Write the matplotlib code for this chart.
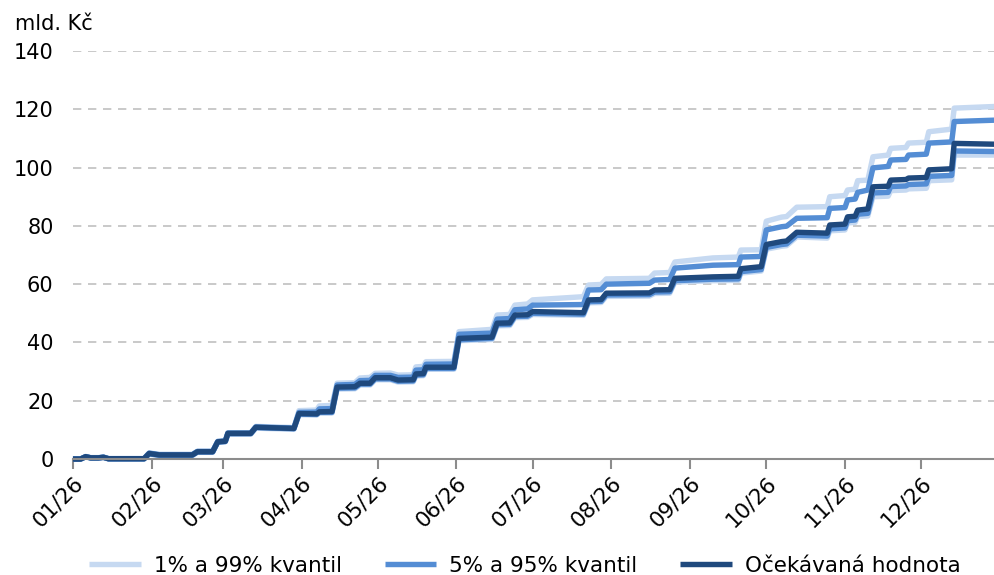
import numpy as np
import matplotlib
matplotlib.use("Agg")
import matplotlib.pyplot as plt
import matplotlib.dates as mdates

# dny od 1.1.2026 a hodnoty (mld. Kc)
dny = [0, 3, 5, 7, 10, 12, 14, 28, 30, 34, 47, 49, 55, 57, 60, 61, 70, 72, 87, 89,
       96, 97, 102, 104, 111, 113, 117, 119, 125, 128, 134, 135, 138, 139, 150, 152,
       165, 167, 172, 174, 179, 181, 201, 203, 208, 210, 227, 229, 235, 237, 252, 262,
       263, 271, 273, 279, 281, 285, 297, 298, 304, 305, 308, 309, 313, 315, 321, 322,
       328, 329, 336, 337, 346, 347, 364]

q01 = [0, 0, 0.7, 0.3, 0.3, 0.5, 0.0, 0.0, 1.7, 1.2, 1.2, 2.3, 2.3, 5.7, 5.9, 8.5, 8.5, 10.6, 10.2, 15.2,
       15.1, 15.8, 15.8, 24.0, 24.1, 25.4, 25.4, 27.2, 27.2, 26.4, 26.5, 28.5, 28.6, 30.8, 30.8, 40.6,
       41.0, 45.7, 45.8, 48.5, 48.6, 49.6, 49.3, 53.6, 53.7, 55.8, 55.9, 56.8, 56.9, 60.7, 61.2, 61.3,
       63.8, 64.5, 72.0, 73.0, 73.2, 76.2, 75.8, 78.3, 78.6, 81.0, 81.2, 83.2, 83.4, 90.0, 90.2, 92.1,
       92.3, 92.7, 92.9, 95.5, 95.8, 104.3, 104.3]

q05 = [0, 0, 0.8, 0.4, 0.4, 0.6, 0.1, 0.1, 1.8, 1.3, 1.3, 2.4, 2.4, 5.8, 6.0, 8.7, 8.7, 10.8, 10.4, 15.4,
       15.3, 16.0, 16.0, 24.3, 24.4, 25.7, 25.7, 27.5, 27.5, 26.7, 26.8, 28.8, 28.9, 31.1, 31.1, 40.9,
       41.4, 46.1, 46.2, 48.9, 49.0, 50.0, 49.7, 54.0, 54.1, 56.3, 56.4, 57.3, 57.4, 61.2, 61.7, 61.8,
       64.3, 65.0, 72.6, 73.6, 73.8, 76.8, 76.5, 79.0, 79.3, 81.8, 82.0, 84.0, 84.3, 91.3, 91.5, 93.5,
       93.7, 94.2, 94.4, 97.0, 97.3, 105.7, 105.5]

stredni = [0, 0, 0.8, 0.4, 0.4, 0.6, 0.1, 0.1, 1.9, 1.4, 1.4, 2.5, 2.5, 5.9, 6.1, 8.8, 8.8, 10.9, 10.5, 15.6,
           15.5, 16.2, 16.3, 24.7, 24.8, 26.0, 26.0, 27.9, 27.9, 27.1, 27.2, 29.2, 29.3, 31.5, 31.5, 41.4,
           41.8, 46.6, 46.7, 49.4, 49.5, 50.6, 50.2, 54.6, 54.7, 56.9, 57.0, 58.0, 58.1, 62.0, 62.5, 62.7,
           65.3, 66.0, 73.6, 74.6, 74.8, 77.8, 77.5, 80.3, 80.6, 83.1, 83.3, 85.4, 85.8, 93.4, 93.6, 95.7,
           95.9, 96.4, 96.6, 99.2, 99.6, 108.3, 108.0]

q95 = [0, 0, 0.8, 0.4, 0.4, 0.6, 0.1, 0.1, 2.0, 1.5, 1.5, 2.6, 2.6, 6.0, 6.2, 8.9, 8.9, 11.0, 10.6, 16.0,
       16.1, 17.2, 17.3, 25.4, 25.6, 26.9, 27.0, 28.7, 28.7, 28.0, 28.1, 30.5, 30.6, 32.5, 32.6, 42.8,
       43.2, 48.0, 48.2, 51.2, 51.5, 52.8, 53.0, 58.0, 58.1, 60.0, 60.3, 61.4, 61.6, 65.5, 66.5, 66.7,
       69.3, 69.5, 78.6, 79.7, 79.9, 82.6, 82.8, 86.0, 86.3, 88.9, 89.2, 91.5, 92.3, 99.9, 100.4, 102.6,
       102.8, 104.3, 104.6, 108.4, 108.8, 115.8, 116.3]

q99 = [0, 0, 0.9, 0.5, 0.5, 0.7, 0.2, 0.2, 2.1, 1.6, 1.6, 2.7, 2.7, 6.1, 6.3, 9.0, 9.0, 11.2, 10.8, 16.6,
       16.8, 18.2, 18.4, 26.0, 26.2, 27.8, 28.0, 29.4, 29.5, 28.8, 28.9, 31.6, 31.8, 33.4, 33.5, 43.7,
       44.5, 49.4, 49.6, 52.8, 53.2, 54.6, 55.7, 59.7, 59.9, 61.8, 62.0, 63.8, 64.0, 67.6, 69.0, 69.3,
       71.7, 71.8, 81.6, 83.0, 83.2, 86.4, 86.6, 90.0, 90.4, 92.3, 92.6, 95.5, 95.7, 103.7, 104.3, 106.6,
       106.9, 108.4, 108.7, 112.3, 113.2, 120.4, 121.0]

datum = np.datetime64('2026-01-01') + np.array(dny).astype('timedelta64[D]')

c_svetla = '#c6d9f1'
c_stredni = '#548dd4'
c_tmava = '#1f497d'
lw = 3.9

fig = plt.figure(figsize=(9.94, 5.75), dpi=100)
ax = fig.add_axes([0.0734, 0.2017, 0.9266, 0.7096])

ax.plot(datum, q01, color=c_svetla, lw=lw, clip_on=False, solid_capstyle='butt')
ax.plot(datum, q99, color=c_svetla, lw=lw, clip_on=False, solid_capstyle='butt', label='1% a 99% kvantil')
ax.plot(datum, q05, color=c_stredni, lw=lw, clip_on=False, solid_capstyle='butt')
ax.plot(datum, q95, color=c_stredni, lw=lw, clip_on=False, solid_capstyle='butt', label='5% a 95% kvantil')
ax.plot(datum, stredni, color=c_tmava, lw=lw, clip_on=False, solid_capstyle='butt', label='Očekávaná hodnota')

ax.set_ylim(0, 140)
ax.set_yticks(np.arange(0, 141, 20))
ax.set_xlim(np.datetime64('2026-01-01'), np.datetime64('2026-12-29T16'))
ax.xaxis.set_major_locator(mdates.MonthLocator())
ax.xaxis.set_major_formatter(mdates.DateFormatter('%m/%y'))

ax.grid(axis='y', color='#c0c0c0', linestyle=(0, (5, 4)), lw=1.2)
ax.set_axisbelow(True)
for s in ['left', 'right', 'top']:
    ax.spines[s].set_visible(False)
ax.spines['bottom'].set_color('#8c8c8c')
ax.spines['bottom'].set_linewidth(1.5)

ax.tick_params(axis='y', length=0, pad=14, labelsize=15)
ax.tick_params(axis='x', direction='out', length=7, width=1.5, color='#8c8c8c', pad=3, labelsize=15.5)
plt.setp(ax.get_xticklabels(), rotation=45, ha='right', rotation_mode='anchor')

fig.text(15 / 994, 1 - 30 / 575, 'mld. Kč', fontsize=15, va='baseline', ha='left')

fig.legend(loc='lower center', bbox_to_anchor=(0.528, -0.035), ncol=3, frameon=False,
           fontsize=15.5, handlelength=2.4, handletextpad=0.6, columnspacing=2.0)

plt.savefig('out.png', dpi=100)
